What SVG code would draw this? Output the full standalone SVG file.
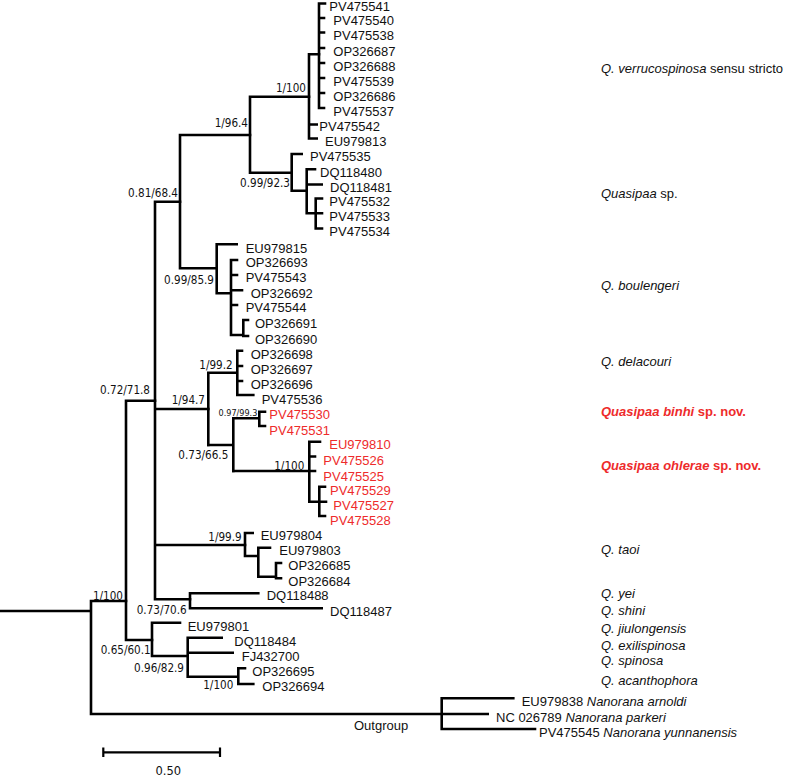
<svg xmlns="http://www.w3.org/2000/svg" width="787" height="778" viewBox="0 0 787 778">
<style>
.br{fill:none;stroke:#000;stroke-width:2.6;stroke-linecap:square}
.tip{font-family:"Liberation Sans",Arial,sans-serif;font-size:13px;fill:#111}
.sup{font-family:"DejaVu Sans Condensed","DejaVu Sans",Verdana,sans-serif;font-size:11.6px;fill:#111;text-anchor:end}
.sp{font-family:"Liberation Sans",Arial,sans-serif;font-size:13px;fill:#111}
.it{font-style:italic}
.bold{font-weight:bold}
text.red{fill:#ee2b2b}
</style>
<rect width="787" height="778" fill="#fff"/>
<g id="connectors" class="br">
<path d="M0 611H91M91 601V714M91 601H126M91 714H441.7"/>
<path d="M441.7 698.3V729M441.7 698.3H513.3M441.7 714H487.7M441.7 729H535"/>
<path d="M126 400.7V640M126 400.7H155M126 640H152"/>
<path d="M155 201.7V599.3M155 201.7H180M155 409H208.3M155 545H245M155 599.3H190"/>
<path d="M180 135V268.3M180 135H250M180 268.3H216.7"/>
<path d="M250 96.7V172.7M250 96.7H309M250 172.7H291.7"/>
<path d="M309 54.3V138.5M309 54.3H319M309 124.5H316.7M309 138.5H316.7"/>
<path d="M319 3.5V108M319 3.5H325M319 18H324M319 32.5H324M319 48H324M319 63H324M319 78H324M319 93H324M319 108H324"/>
<path d="M291.7 154V190.7M291.7 154H301.7M291.7 190.7H306.7M306.7 169.3V213.3M306.7 169.3H315M306.7 184.5H321.7M306.7 213.3H315.7M315.7 198.5V228.5M315.7 198.5H322M315.7 213.3H322M315.7 228.5H322"/>
<path d="M216.7 244.3V293.3M216.7 244.3H236.7M216.7 293.3H231M231 260V335M231 260H237M231 275H237M231 290.3H242M231 305H237M231 335H243.3M243.3 320V336M243.3 320H248M243.3 336H248"/>
<path d="M208.3 372.7V445M208.3 372.7H237.3M237.3 350.7V395M237.3 350.7H242M237.3 366H242M237.3 381H242M237.3 395H253.3"/>
<path d="M208.3 445H233.3M233.3 418.3V471M233.3 418.3H259.3M259.3 411.7V426M259.3 411.7H265M259.3 426H265"/>
<path d="M233.3 471H309.3M309.3 441.7V501.7M309.3 441.7H320M309.3 456.5H315M309.3 471H315M309.3 501.7H319.3M319.3 486.7V516M319.3 486.7H325M319.3 501.7H326M319.3 516H325"/>
<path d="M245 533V556M245 533H252.7M245 556H258.3M258.3 547.7V576.7M258.3 547.7H270M258.3 576.7H276M276 563V578.3M276 563H281M276 578.3H281"/>
<path d="M190 593.3V608.3M190 593.3H258.3M190 608.3H321.7"/>
<path d="M152 622.7V656M152 622.7H180M152 656H187.7M187.7 637.7V676.7M187.7 637.7H221.7M187.7 652.7H232.7M187.7 676.7H238.3M238.3 668.3V684M238.3 668.3H245M238.3 684H253.3"/>
</g>
<g id="scale-bar">
<path d="M103.3 752.3H220M103.3 747.5V757M220 747.5V757" fill="none" stroke="#000" stroke-width="2.2"/>
<text x="168.3" y="775" font-family="'DejaVu Sans',Verdana,sans-serif" font-size="11.5" text-anchor="middle" fill="#111">0.50</text>
</g>
<g id="support-values">
<text class="sup" x="306" y="92.4">1/100</text>
<text class="sup" x="248" y="127.1">1/96.4</text>
<text class="sup" x="290" y="187.4">0.99/92.3</text>
<text class="sup" x="178" y="197.4">0.81/68.4</text>
<text class="sup" x="214" y="284.1">0.99/85.9</text>
<text class="sup" x="232.7" y="369.1">1/99.2</text>
<text class="sup" x="150" y="394.1">0.72/71.8</text>
<text class="sup" x="205" y="404.1">1/94.7</text>
<text class="sup" x="257.3" y="415.9" style="font-size:9px">0.97/99.3</text>
<text class="sup" x="228.3" y="459.1">0.73/66.5</text>
<text class="sup" x="304.3" y="470.1">1/100</text>
<text class="sup" x="241.7" y="540.8">1/99.9</text>
<text class="sup" x="123" y="600.1">1/100</text>
<text class="sup" x="186.7" y="614.1">0.73/70.6</text>
<text class="sup" x="150.7" y="654.1">0.65/60.1</text>
<text class="sup" x="184" y="672.4">0.96/82.9</text>
<text class="sup" x="233.3" y="689.1">1/100</text>
</g>
<g id="tips">
<g id="tip-PV475541"><text class="tip" x="329.3" y="10.6">PV475541</text></g>
<g id="tip-PV475540"><text class="tip" x="333.3" y="25.3">PV475540</text></g>
<g id="tip-PV475538"><text class="tip" x="333.3" y="39.6">PV475538</text></g>
<g id="tip-OP326687"><text class="tip" x="333.3" y="55.6">OP326687</text></g>
<g id="tip-OP326688"><text class="tip" x="333.3" y="70.6">OP326688</text></g>
<g id="tip-PV475539"><text class="tip" x="333.3" y="85.6">PV475539</text></g>
<g id="tip-OP326686"><text class="tip" x="333.3" y="100.6">OP326686</text></g>
<g id="tip-PV475537"><text class="tip" x="333.3" y="115.6">PV475537</text></g>
<g id="tip-PV475542"><text class="tip" x="319.3" y="131.3">PV475542</text></g>
<g id="tip-EU979813"><text class="tip" x="325" y="146.3">EU979813</text></g>
<g id="tip-PV475535"><text class="tip" x="310" y="160.6">PV475535</text></g>
<g id="tip-DQ118480"><text class="tip" x="320" y="177.3">DQ118480</text></g>
<g id="tip-DQ118481"><text class="tip" x="330" y="192.3">DQ118481</text></g>
<g id="tip-PV475532"><text class="tip" x="329.3" y="206.3">PV475532</text></g>
<g id="tip-PV475533"><text class="tip" x="329.3" y="221.3">PV475533</text></g>
<g id="tip-PV475534"><text class="tip" x="329.3" y="236.3">PV475534</text></g>
<g id="tip-EU979815"><text class="tip" x="245.7" y="252.9">EU979815</text></g>
<g id="tip-OP326693"><text class="tip" x="245.7" y="267.3">OP326693</text></g>
<g id="tip-PV475543"><text class="tip" x="245.7" y="282.3">PV475543</text></g>
<g id="tip-OP326692"><text class="tip" x="250.7" y="297.9">OP326692</text></g>
<g id="tip-PV475544"><text class="tip" x="245.7" y="312.3">PV475544</text></g>
<g id="tip-OP326691"><text class="tip" x="255" y="327.9">OP326691</text></g>
<g id="tip-OP326690"><text class="tip" x="255" y="343.6">OP326690</text></g>
<g id="tip-OP326698"><text class="tip" x="250.7" y="358.6">OP326698</text></g>
<g id="tip-OP326697"><text class="tip" x="250.7" y="373.9">OP326697</text></g>
<g id="tip-OP326696"><text class="tip" x="250.7" y="388.6">OP326696</text></g>
<g id="tip-PV475536"><text class="tip" x="261.7" y="403.6">PV475536</text></g>
<g id="tip-PV475530"><text class="tip red" x="269.3" y="418.6">PV475530</text></g>
<g id="tip-PV475531"><text class="tip red" x="269.3" y="434.6">PV475531</text></g>
<g id="tip-EU979810"><text class="tip red" x="329.3" y="448.9">EU979810</text></g>
<g id="tip-PV475526"><text class="tip red" x="323.3" y="464.6">PV475526</text></g>
<g id="tip-PV475525"><text class="tip red" x="323.3" y="480.6">PV475525</text></g>
<g id="tip-PV475529"><text class="tip red" x="330" y="494.6">PV475529</text></g>
<g id="tip-PV475527"><text class="tip red" x="333.3" y="509.6">PV475527</text></g>
<g id="tip-PV475528"><text class="tip red" x="330" y="525.3">PV475528</text></g>
<g id="tip-EU979804"><text class="tip" x="260.7" y="540.3">EU979804</text></g>
<g id="tip-EU979803"><text class="tip" x="279.3" y="555.3">EU979803</text></g>
<g id="tip-OP326685"><text class="tip" x="288.3" y="570.3">OP326685</text></g>
<g id="tip-OP326684"><text class="tip" x="288.3" y="585.6">OP326684</text></g>
<g id="tip-DQ118488"><text class="tip" x="266.7" y="600.3">DQ118488</text></g>
<g id="tip-DQ118487"><text class="tip" x="330" y="616.3">DQ118487</text></g>
<g id="tip-EU979801"><text class="tip" x="187.7" y="631.3">EU979801</text></g>
<g id="tip-DQ118484"><text class="tip" x="234.3" y="645.6">DQ118484</text></g>
<g id="tip-FJ432700"><text class="tip" x="241.7" y="660.9">FJ432700</text></g>
<g id="tip-OP326695"><text class="tip" x="252.3" y="675.6">OP326695</text></g>
<g id="tip-OP326694"><text class="tip" x="262.3" y="691.3">OP326694</text></g>
<g id="tip-EU979838"><text class="tip" x="521.7" y="706.3">EU979838 <tspan class="it">Nanorana arnoldi</tspan></text></g>
<g id="tip-NC026789"><text class="tip" x="496" y="721.9">NC 026789 <tspan class="it">Nanorana parkeri</tspan></text></g>
<g id="tip-PV475545"><text class="tip" x="539" y="736.9">PV475545 <tspan class="it">Nanorana yunnanensis</tspan></text></g>
<g id="outgroup-label"><text class="tip" x="354" y="729.6">Outgroup</text></g>
</g>
<g id="species">
<g id="sp-verrucospinosa"><text class="sp" x="601" y="73.2"><tspan class="it">Q. verrucospinosa</tspan> sensu stricto</text></g>
<g id="sp-quasipaa"><text class="sp" x="601" y="198.2"><tspan class="it">Quasipaa</tspan> sp.</text></g>
<g id="sp-boulengeri"><text class="sp it" x="601" y="290.3">Q. boulengeri</text></g>
<g id="sp-delacouri"><text class="sp it" x="601" y="366">Q. delacouri</text></g>
<g id="sp-binhi"><text class="sp bold red" x="601" y="416"><tspan class="it">Quasipaa binhi</tspan> sp. nov.</text></g>
<g id="sp-ohlerae"><text class="sp bold red" x="601" y="470.3"><tspan class="it">Quasipaa ohlerae</tspan> sp. nov.</text></g>
<g id="sp-taoi"><text class="sp it" x="601" y="553.5">Q. taoi</text></g>
<g id="sp-yei"><text class="sp it" x="601" y="598.2">Q. yei</text></g>
<g id="sp-shini"><text class="sp it" x="601" y="614.6">Q. shini</text></g>
<g id="sp-jiulongensis"><text class="sp it" x="601" y="632.6">Q. jiulongensis</text></g>
<g id="sp-exilispinosa"><text class="sp it" x="601" y="649.6">Q. exilispinosa</text></g>
<g id="sp-spinosa"><text class="sp it" x="601" y="664.6">Q. spinosa</text></g>
<g id="sp-acanthophora"><text class="sp it" x="601" y="685.3">Q. acanthophora</text></g>
</g>
</svg>
